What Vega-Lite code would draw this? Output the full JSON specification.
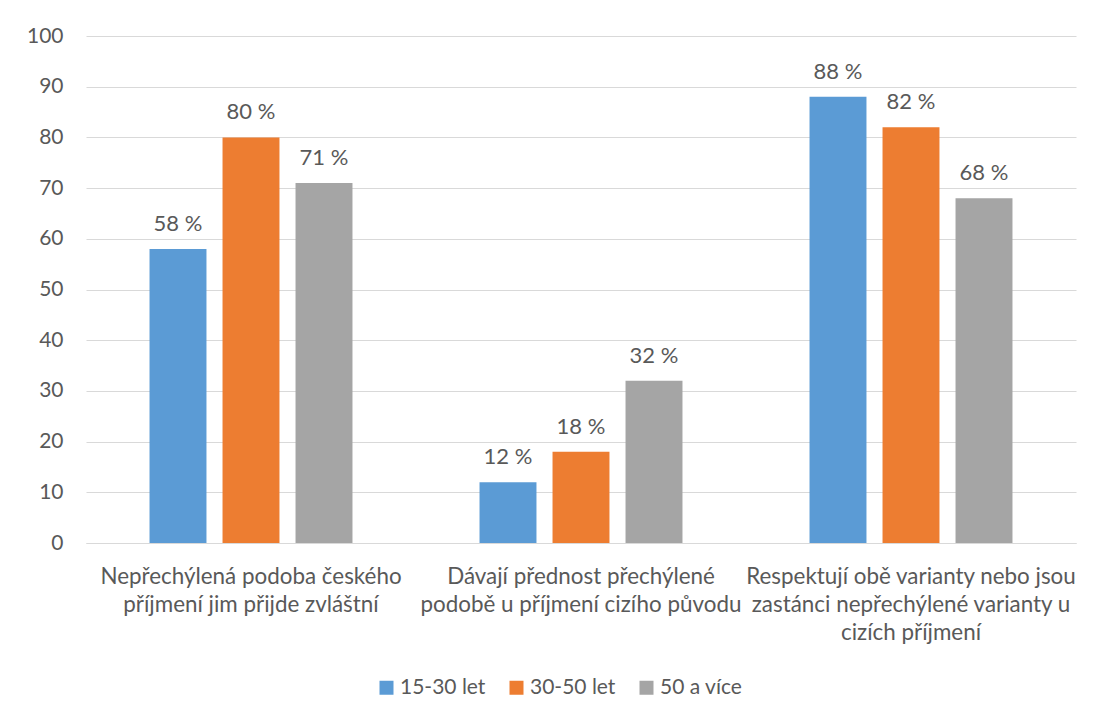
{
  "$schema": "https://vega.github.io/schema/vega-lite/v6.json",
  "width": 990,
  "height": 507,
  "autosize": {"type": "none"},
  "padding": {"left": 86, "top": 36, "right": 21, "bottom": 173},
  "background": "white",
  "data": {
    "values": [
      {"kategorie": "Nepřechýlená podoba českého příjmení jim přijde zvláštní", "skupina": "15-30 let", "hodnota": 58},
      {"kategorie": "Nepřechýlená podoba českého příjmení jim přijde zvláštní", "skupina": "30-50 let", "hodnota": 80},
      {"kategorie": "Nepřechýlená podoba českého příjmení jim přijde zvláštní", "skupina": "50 a více", "hodnota": 71},
      {"kategorie": "Dávají přednost přechýlené podobě u příjmení cizího původu", "skupina": "15-30 let", "hodnota": 12},
      {"kategorie": "Dávají přednost přechýlené podobě u příjmení cizího původu", "skupina": "30-50 let", "hodnota": 18},
      {"kategorie": "Dávají přednost přechýlené podobě u příjmení cizího původu", "skupina": "50 a více", "hodnota": 32},
      {"kategorie": "Respektují obě varianty nebo jsou zastánci nepřechýlené varianty u cizích příjmení", "skupina": "15-30 let", "hodnota": 88},
      {"kategorie": "Respektují obě varianty nebo jsou zastánci nepřechýlené varianty u cizích příjmení", "skupina": "30-50 let", "hodnota": 82},
      {"kategorie": "Respektují obě varianty nebo jsou zastánci nepřechýlené varianty u cizích příjmení", "skupina": "50 a více", "hodnota": 68}
    ]
  },
  "transform": [
    {"calculate": "datum.hodnota + ' %'", "as": "popisek"}
  ],
  "encoding": {
    "x": {
      "field": "kategorie",
      "type": "nominal",
      "sort": null,
      "scale": {"paddingInner": 0.385, "paddingOuter": 0.1925},
      "axis": {
        "title": null,
        "labelAngle": 0,
        "ticks": false,
        "domain": true,
        "domainColor": "#d9d9d9",
        "domainWidth": 1,
        "labelPadding": 22,
        "labelFontSize": 22.4,
        "labelLineHeight": 28,
        "labelLimit": 0,
        "labelExpr": "indexof(datum.label, 'Nepřechýlená') == 0 ? ['Nepřechýlená podoba českého', 'příjmení jim přijde zvláštní'] : indexof(datum.label, 'Dávají') == 0 ? ['Dávají přednost přechýlené', 'podobě u příjmení cizího původu'] : ['Respektují obě varianty nebo jsou', 'zastánci nepřechýlené varianty u', 'cizích příjmení']"
      }
    },
    "xOffset": {
      "field": "skupina",
      "type": "nominal",
      "sort": null,
      "scale": {"paddingInner": 0.22, "paddingOuter": 0}
    },
    "y": {
      "field": "hodnota",
      "type": "quantitative",
      "scale": {"domain": [0, 100], "nice": false, "zero": true},
      "axis": {
        "title": null,
        "values": [0, 10, 20, 30, 40, 50, 60, 70, 80, 90, 100],
        "ticks": false,
        "domain": false,
        "grid": true,
        "gridColor": "#d9d9d9",
        "gridWidth": 1,
        "labelPadding": 23,
        "labelFontSize": 21
      }
    }
  },
  "layer": [
    {
      "mark": {"type": "bar"},
      "encoding": {
        "color": {
          "field": "skupina",
          "type": "nominal",
          "sort": null,
          "scale": {
            "domain": ["15-30 let", "30-50 let", "50 a více"],
            "range": ["#5b9bd5", "#ed7d31", "#a5a5a5"]
          },
          "legend": {
            "title": null,
            "orient": "none",
            "direction": "horizontal",
            "legendX": 290,
            "legendY": 641,
            "symbolType": "square",
            "symbolSize": 196,
            "symbolStrokeWidth": 0,
            "labelOffset": 3,
            "columnPadding": 20,
            "padding": 0
          }
        }
      }
    },
    {
      "mark": {"type": "text", "baseline": "alphabetic", "dy": -18, "fontSize": 22, "font": "Lato", "color": "#595959"},
      "encoding": {
        "text": {"field": "popisek", "type": "nominal"}
      }
    }
  ],
  "config": {
    "view": {"stroke": null},
    "font": "Lato",
    "axis": {
      "labelFont": "Lato",
      "labelColor": "#595959"
    },
    "legend": {
      "labelFont": "Lato",
      "labelFontSize": 21,
      "labelColor": "#595959"
    }
  }
}
